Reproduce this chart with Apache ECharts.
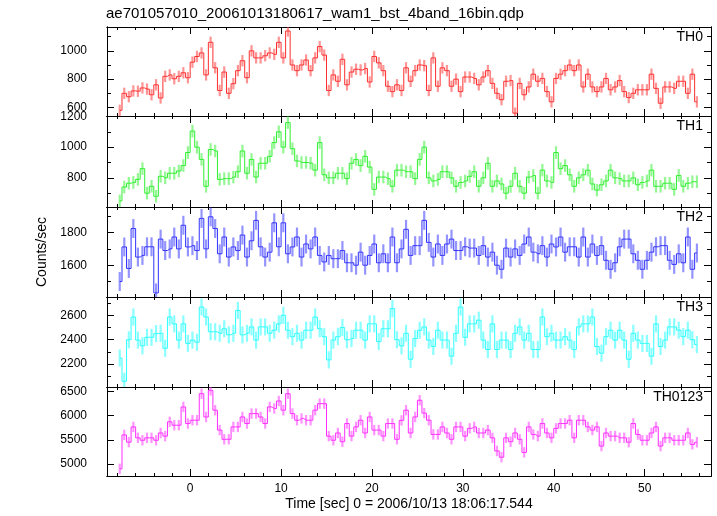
<!DOCTYPE html>
<html><head><meta charset="utf-8">
<script src="https://cdn.jsdelivr.net/npm/echarts@6/dist/echarts.min.js"></script>
<style>html,body{margin:0;padding:0;background:#fff}#c{width:717px;height:516px}</style>
</head><body><div id="c"></div>
<script>
// ---- data (bin centres: binStart + i*binWidth, seconds) ----
const binStart = -7.75, binWidth = 0.5;
const th0 = [580,700,676,717,715,738,730,690,760,667,820,830,803,820,845,810,
 920,960,985,830,1060,880,720,850,700,768,860,930,810,1000,950,950,
 965,985,975,1060,950,1140,900,860,900,935,860,950,1030,970,720,830,
 785,940,760,850,870,865,875,780,960,915,860,750,712,760,720,880,
 785,860,900,895,720,950,750,880,860,750,800,712,815,815,805,760,
 815,860,770,700,655,785,790,560,770,690,745,835,785,805,712,640,
 805,835,860,900,860,900,745,835,745,712,745,805,725,745,790,712,
 670,700,725,725,725,835,735,630,745,745,735,785,785,700,835,640];
const th1 = [650,740,765,770,790,860,700,745,680,810,800,830,830,845,880,965,
 1105,1000,920,745,985,975,790,795,795,805,840,975,830,920,805,895,
 895,940,1030,1100,1000,1160,990,910,900,900,895,850,1030,820,800,800,
 830,830,795,895,920,880,940,870,725,805,805,795,745,850,850,840,
 840,795,920,1000,800,780,790,840,840,800,745,770,780,810,840,745,
 800,895,745,780,760,700,745,830,745,700,805,815,700,850,780,770,
 965,860,880,820,745,800,820,850,760,720,755,780,850,800,795,780,
 780,800,755,770,780,850,745,745,765,765,725,815,745,765,775,775];
const th2 = [1500,1712,1580,1825,1650,1660,1713,1713,1430,1760,1690,1700,1773,1700,1845,1712,
 1720,1690,1887,1700,1897,1825,1670,1773,1650,1712,1690,1785,1650,1750,1875,1713,
 1650,1680,1860,1713,1860,1670,1712,1773,1650,1730,1700,1773,1660,1620,1660,1640,
 1640,1690,1615,1615,1600,1680,1600,1660,1730,1615,1670,1615,1773,1615,1700,1820,
 1660,1720,1720,1875,1740,1650,1730,1660,1730,1760,1690,1690,1713,1705,1705,1660,
 1720,1650,1680,1600,1575,1705,1650,1700,1660,1730,1773,1680,1670,1720,1650,1730,
 1712,1773,1680,1713,1713,1650,1773,1650,1730,1660,1720,1630,1575,1615,1713,1760,
 1760,1670,1630,1575,1630,1680,1713,1720,1720,1630,1605,1670,1615,1773,1575,1675];
const th3 = [2250,2060,2400,2586,2397,2350,2420,2420,2450,2453,2330,2586,2530,2397,2530,2370,
 2397,2380,2668,2586,2465,2465,2453,2490,2440,2453,2640,2440,2453,2505,2397,2505,
 2505,2453,2478,2530,2600,2478,2425,2453,2397,2478,2478,2586,2490,2425,2235,2397,
 2425,2500,2400,2410,2478,2478,2397,2530,2530,2385,2490,2490,2655,2400,2350,2453,
 2240,2410,2478,2505,2397,2345,2478,2397,2397,2265,2453,2668,2420,2530,2530,2560,
 2397,2320,2530,2320,2397,2397,2320,2453,2505,2397,2453,2320,2320,2586,2425,2453,
 2397,2397,2425,2397,2320,2505,2530,2530,2586,2345,2290,2425,2478,2397,2478,2397,
 2240,2453,2397,2370,2370,2265,2530,2345,2397,2505,2505,2478,2425,2478,2400,2360];
const th0123 = [4900,5600,5450,5765,5540,5490,5540,5540,5490,5640,5575,5870,5800,5800,6177,5835,
 5903,5903,6450,5970,6520,6110,5700,5510,5510,5765,5765,5970,5835,6040,6040,5970,
 5835,6177,6145,6300,6110,6450,6040,5903,5940,5903,5903,6110,6245,6245,5575,5490,
 5640,5460,5835,5575,5765,5903,5640,5970,5700,5700,5575,5835,5835,5510,5900,6110,
 5640,5970,6315,6050,5903,5610,5610,5765,5640,5510,5765,5765,5575,5735,5765,5640,
 5640,5700,5540,5270,5140,5540,5460,5640,5510,5240,5765,5610,5575,5835,5640,5540,
 5735,5835,5835,5903,5540,5903,5903,5765,5700,5765,5370,5640,5575,5575,5540,5540,
 5450,5835,5610,5490,5490,5640,5765,5370,5540,5540,5490,5490,5490,5640,5405,5450];
const panelNames = ['TH0','TH1','TH2','TH3','TH0123'];
const errHalf = [40, 41, 58, 70, 107];
const yRanges = [[540,1168],[610,1203],[1405,1957],[2013,2750],[4753,6588]];
const yMinorSteps = [100,100,100,100,500];
const yLabelSteps = [200,200,200,200,500];
const xRange = [-9.15, 57.3];
const xMinorStep = 2, xLabelStep = 10;
const titleText = 'ae701057010_20061013180617_wam1_bst_4band_16bin.qdp';
const xTitle = 'Time [sec] 0 = 2006/10/13 18:06:17.544';
const yTitle = 'Counts/sec';

// ---- styling ----
const panels = [th0, th1, th2, th3, th0123];
const lineColors = ['#ff2e2e','#2ef02e','#3232ff','#2effff','#ff2eff'];
const barColors = ['rgba(255,60,60,0.55)','rgba(60,240,60,0.55)','rgba(60,60,255,0.55)','rgba(60,255,255,0.6)','rgba(255,60,255,0.55)'];
const gridTops = [27,116,207,297,387];
const gridHeights = [89,91,90,90,89];
const FONT = '"Liberation Sans", Arial, Helvetica, sans-serif';
const times = th0.map((_, i) => binStart + i * binWidth);

const grids = [], xAxes = [], yAxes = [], series = [], titles = [];
titles.push({text: titleText, left: 106, top: 6, padding: 0,
  textStyle: {fontSize: 15, fontWeight: 'normal', color: '#000', fontFamily: FONT}});

const axLine = {show: true, onZero: false, lineStyle: {color: '#000', width: 1}};
const tickStyle = {color: '#000', width: 1};

for (let g = 0; g < 5; g++) {
  grids.push({left: 107, right: 6, top: gridTops[g], height: gridHeights[g], containLabel: false});
  titles.push({text: panelNames[g], right: 14, top: gridTops[g] + 3, padding: 0,
    textStyle: {fontSize: 14, fontWeight: 'normal', color: '#000', fontFamily: FONT}});
  const xb = {type: 'value', gridIndex: g, min: xRange[0], max: xRange[1], splitLine: {show: false}, axisLine: axLine};
  ['bottom','top'].forEach(pos => {
    xAxes.push(Object.assign({}, xb, {position: pos, minInterval: xMinorStep, maxInterval: xMinorStep,
      axisTick: {inside: true, length: 3, lineStyle: tickStyle}, axisLabel: {show: false}}));
    const major = Object.assign({}, xb, {position: pos, minInterval: xLabelStep, maxInterval: xLabelStep,
      axisTick: {inside: true, length: 7, lineStyle: tickStyle},
      axisLabel: {show: pos === 'bottom' && g === 4, margin: 7, fontSize: 12, color: '#000', fontFamily: FONT,
        formatter: v => (v % xLabelStep === 0 ? String(v) : '')}});
    if (pos === 'bottom' && g === 4) {
      Object.assign(major, {name: xTitle, nameLocation: 'middle', nameGap: 21,
        nameTextStyle: {fontSize: 14, color: '#000', fontFamily: FONT}});
    }
    xAxes.push(major);
  });
  const yb = {type: 'value', gridIndex: g, min: yRanges[g][0], max: yRanges[g][1], splitLine: {show: false}, axisLine: axLine};
  ['left','right'].forEach(pos => {
    yAxes.push(Object.assign({}, yb, {position: pos, minInterval: yMinorSteps[g], maxInterval: yMinorSteps[g],
      axisTick: {inside: true, length: 4, lineStyle: tickStyle}, axisLabel: {show: false}}));
    const major = Object.assign({}, yb, {position: pos, minInterval: yLabelSteps[g], maxInterval: yLabelSteps[g],
      axisTick: {inside: true, length: 7, lineStyle: tickStyle},
      axisLabel: {show: pos === 'left', margin: 20, fontSize: 12, color: '#000', fontFamily: FONT,
        formatter: v => (v % yLabelSteps[g] === 0 ? String(v) : '')}});
    if (pos === 'left' && g === 2) {
      Object.assign(major, {name: yTitle, nameLocation: 'middle', nameGap: 58,
        nameTextStyle: {fontSize: 14, color: '#000', fontFamily: FONT}});
    }
    yAxes.push(major);
  });
  const vals = panels[g];
  series.push({
    type: 'custom', xAxisIndex: 4 * g, yAxisIndex: 4 * g, clip: true, silent: true, animation: false,
    data: vals.map((v, i) => [times[i], v, errHalf[g]]),
    encode: {x: 0, y: 1},
    renderItem: (params, api) => {
      const t = api.value(0), v = api.value(1), e = api.value(2);
      const a = api.coord([t, v - e]), b = api.coord([t, v + e]);
      return {type: 'line', shape: {x1: a[0], y1: a[1], x2: b[0], y2: b[1]},
        style: {stroke: barColors[g], lineWidth: 2.2}};
    }
  });
  series.push({
    type: 'line', xAxisIndex: 4 * g, yAxisIndex: 4 * g, step: 'middle', symbol: 'none', showSymbol: false,
    clip: true, silent: true, animation: false,
    data: vals.map((v, i) => [times[i], v]),
    lineStyle: {color: lineColors[g], width: 1}
  });
}

const chart = echarts.init(document.getElementById('c'), null, {renderer: 'canvas'});
chart.setOption({animation: false, backgroundColor: '#fff', title: titles, grid: grids,
  xAxis: xAxes, yAxis: yAxes, series: series});
</script></body></html>
